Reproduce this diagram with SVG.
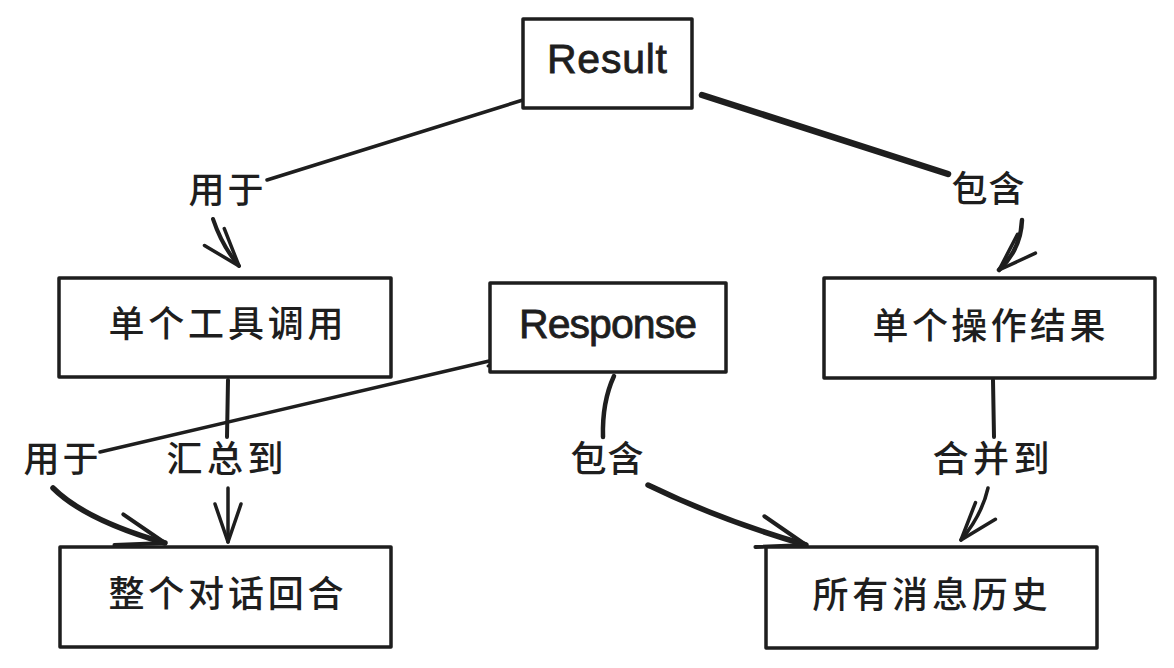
<svg xmlns="http://www.w3.org/2000/svg" width="1174" height="668" viewBox="0 0 1174 668">
<defs>
<style>
.box{fill:#ffffff;stroke:#1e1e1e;stroke-width:3.5;stroke-linejoin:round}
.cn{font-family:"Noto Sans CJK SC","Noto Sans",sans-serif;font-size:36px;font-weight:500;fill:#1e1e1e;text-anchor:middle}
.en{font-family:"Liberation Sans","Noto Sans",sans-serif;font-size:41px;fill:#1e1e1e;text-anchor:middle;stroke:#1e1e1e;stroke-width:0.8}
.ln{fill:none;stroke:#1e1e1e;stroke-linecap:round;stroke-linejoin:round}
</style>
<marker id="ah" markerUnits="userSpaceOnUse" viewBox="-45 -20 50 40" refX="0" refY="0" markerWidth="50" markerHeight="40" orient="auto" overflow="visible">
<path d="M-38,-13 L0,0 L-38,13" fill="none" stroke="#1e1e1e" stroke-width="3.5" stroke-linecap="round" stroke-linejoin="round"/>
</marker>
<marker id="ahb" markerUnits="userSpaceOnUse" viewBox="-55 -20 60 40" refX="0" refY="0" markerWidth="60" markerHeight="40" orient="auto" overflow="visible">
<path d="M-48,-16 L0,0 L-48,16" fill="none" stroke="#1e1e1e" stroke-width="4" stroke-linecap="round" stroke-linejoin="round"/>
</marker>
</defs>
<rect width="1174" height="668" fill="#ffffff"/>
<g id="connectors">
<path class="ln" d="M539,95 L267,180" stroke-width="3.5"/>
<path class="ln" d="M213,219 Q222,246 239,266" stroke-width="4" marker-end="url(#ah)"/>
<path class="ln" d="M702,95 L948,174" stroke-width="6.5"/>
<path class="ln" d="M1022,220 Q1021,249 999,270" stroke-width="4.5" marker-end="url(#ah)"/>
<path class="ln" d="M228,380 L227,437" stroke-width="4"/>
<path class="ln" d="M228,488 L228,542" stroke-width="3.5" marker-end="url(#ah)"/>
<path class="ln" d="M502,358 L100,452" stroke-width="3.5"/>
<path class="ln" d="M488,366 L502,358" stroke-width="3"/>
<path class="ln" d="M53,488 Q85,520 165,543" stroke-width="5.5" marker-end="url(#ahb)"/>
<path class="ln" d="M614,376 Q602,402 603,437" stroke-width="4.5"/>
<path class="ln" d="M648,485 Q720,520 806,545" stroke-width="5.5" marker-end="url(#ahb)"/>
<path class="ln" d="M993,380 L994,437" stroke-width="4"/>
<path class="ln" d="M988,488 Q982,515 961,540" stroke-width="3.5" marker-end="url(#ah)"/>
</g>
<g id="labels">
<text class="cn" x="226" y="203" textLength="75">用于</text>
<text class="cn" x="988" y="202" textLength="73">包含</text>
<text class="cn" x="61" y="472" textLength="75">用于</text>
<text class="cn" x="225" y="472" textLength="117">汇总到</text>
<text class="cn" x="607" y="472" textLength="73">包含</text>
<text class="cn" x="991" y="472" textLength="117">合并到</text>
</g>
<g id="result">
<rect class="box" x="523" y="19" width="169" height="89"/>
<text class="en" x="607" y="73" textLength="120">Result</text>
</g>
<g id="tool-call">
<rect class="box" x="59" y="278" width="332" height="99"/>
<text class="cn" x="226" y="337" textLength="235">单个工具调用</text>
</g>
<g id="response">
<rect class="box" x="490" y="283" width="236" height="89"/>
<text class="en" x="608" y="338" textLength="178">Response</text>
</g>
<g id="op-result">
<rect class="box" x="824" y="278" width="331" height="100"/>
<text class="cn" x="989" y="339" textLength="233">单个操作结果</text>
</g>
<g id="turn">
<rect class="box" x="60" y="547" width="331" height="100"/>
<text class="cn" x="226" y="607" textLength="235">整个对话回合</text>
</g>
<g id="history">
<rect class="box" x="766" y="547" width="331" height="101"/>
<text class="cn" x="930" y="608" textLength="235">所有消息历史</text>
</g>
</svg>
